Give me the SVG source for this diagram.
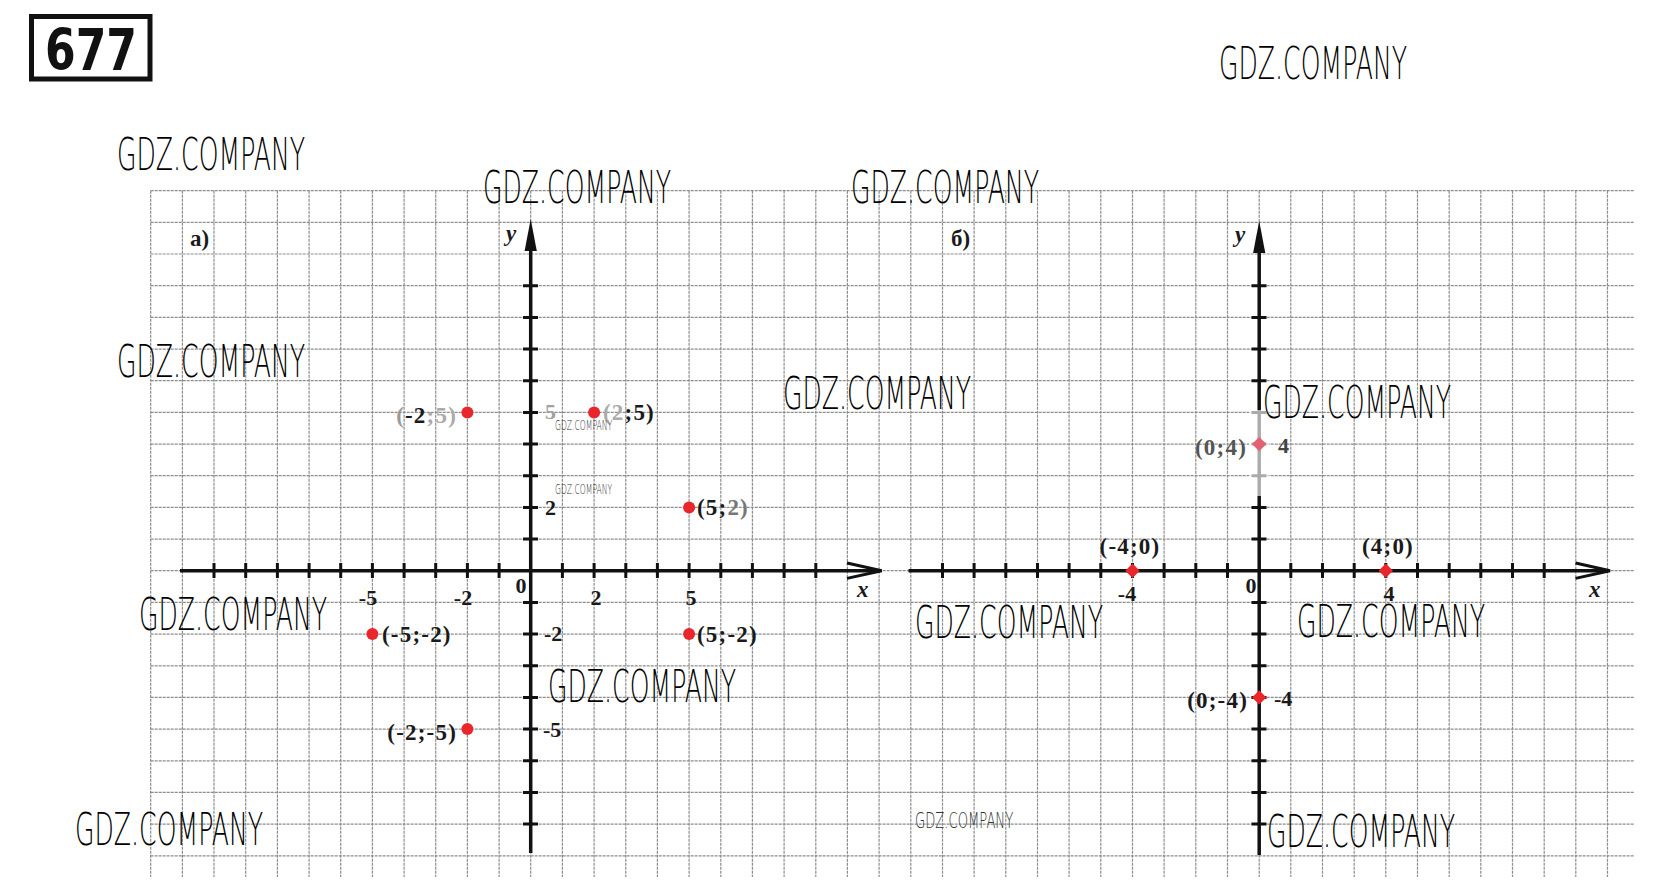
<svg xmlns="http://www.w3.org/2000/svg" width="1672" height="895" viewBox="0 0 1672 895">
<style>
.grid{stroke:#8c8c8c;stroke-width:1.2;stroke-dasharray:3 1;fill:none}
.axis{stroke:#111;stroke-width:3.5;fill:none}
.tick{stroke:#111;stroke-width:3;fill:none}
.chev{stroke:#111;stroke-width:3;fill:none;stroke-linejoin:miter}
.lbl{font-family:"Liberation Serif","Times New Roman",serif;font-weight:bold;font-size:23px;fill:#1a1a1a;letter-spacing:1.2px}
.num{font-family:"Liberation Serif","Times New Roman",serif;font-weight:bold;font-size:22px;fill:#1a1a1a}
.var{font-family:"Liberation Serif","Times New Roman",serif;font-weight:bold;font-style:italic;font-size:23px;fill:#1a1a1a}
.wm{font-family:"DejaVu Sans","Liberation Sans",sans-serif;font-weight:200;font-size:45px;fill:#000}
.wms{font-family:"DejaVu Sans","Liberation Sans",sans-serif;font-weight:200;font-size:14px;fill:#333}
.pt{fill:#e8262b}
.faint{fill:#a0a0a0}
</style>
<rect width="1672" height="895" fill="#fff"/>

<g id="title">
<rect x="31.5" y="16.5" width="118.5" height="62.5" fill="#fff" stroke="#111" stroke-width="5"/>
<text x="45" y="70" textLength="92" lengthAdjust="spacingAndGlyphs" style="font-family:'DejaVu Sans','Liberation Sans',sans-serif;font-weight:bold;font-size:57px;fill:#111">677</text>
</g>

<g id="grid" class="grid">
<path d="M150.7 190.7V877M182.4 190.7V877M214 190.7V877M245.7 190.7V877M277.4 190.7V877M309.1 190.7V877M340.7 190.7V877M372.4 190.7V877M404.1 190.7V877M435.7 190.7V877M467.4 190.7V877M499.1 190.7V877M530.7 190.7V877M562.4 190.7V877M594.1 190.7V877M625.8 190.7V877M657.4 190.7V877M689.1 190.7V877M720.8 190.7V877M752.4 190.7V877M784.1 190.7V877M815.8 190.7V877M847.4 190.7V877M879.1 190.7V877M910.8 190.7V877M942.5 190.7V877M974.1 190.7V877M1005.8 190.7V877M1037.5 190.7V877M1069.1 190.7V877M1100.8 190.7V877M1132.5 190.7V877M1164.1 190.7V877M1195.8 190.7V877M1227.5 190.7V877M1259.2 190.7V877M1290.8 190.7V877M1322.5 190.7V877M1354.2 190.7V877M1385.8 190.7V877M1417.5 190.7V877M1449.2 190.7V877M1480.8 190.7V877M1512.5 190.7V877M1544.2 190.7V877M1575.8 190.7V877M1607.5 190.7V877"/>
<path d="M150.7 190.7H1634M150.7 222.4H1634M150.7 254H1634M150.7 285.7H1634M150.7 317.4H1634M150.7 349.1H1634M150.7 380.7H1634M150.7 412.4H1634M150.7 444.1H1634M150.7 475.7H1634M150.7 507.4H1634M150.7 539.1H1634M150.7 570.7H1634M150.7 602.4H1634M150.7 634.1H1634M150.7 665.8H1634M150.7 697.4H1634M150.7 729.1H1634M150.7 760.8H1634M150.7 792.4H1634M150.7 824.1H1634M150.7 855.8H1634"/>
</g>

<g id="connectors">
<path class="axis" d="M180 570.7H880"/>
<path class="chev" d="M847 563L881.7 570.7L847 578.4"/>
<path class="axis" d="M530.7 853V240"/>
<polygon points="530.7,219 524.6,251 536.8,251" fill="#111"/>
<path class="tick" d="M214 563v15M245.7 563v15M277.4 563v15M309.1 563v15M340.7 563v15M372.4 563v15M404.1 563v15M435.7 563v15M467.4 563v15M499.1 563v15M562.4 563v15M594.1 563v15M625.8 563v15M657.4 563v15M689.1 563v15M720.8 563v15M752.4 563v15M784.1 563v15M815.8 563v15"/>
<path class="tick" d="M523 285.7h15M523 317.4h15M523 349.1h15M523 380.7h15M523 412.4h15M523 444.1h15M523 475.7h15M523 507.4h15M523 539.1h15M523 602.4h15M523 634.1h15M523 665.8h15M523 697.4h15M523 729.1h15M523 760.8h15M523 792.4h15M523 824.1h15"/>
<path class="axis" d="M908.5 570.7H1608"/>
<path class="chev" d="M1575.5 563L1610 570.7L1575.5 578.4"/>
<path class="axis" d="M1259.2 855V242"/>
<polygon points="1259.2,221 1253.1,253 1265.3,253" fill="#111"/>
<path class="tick" d="M942.5 563v15M974.1 563v15M1005.8 563v15M1037.5 563v15M1069.1 563v15M1100.8 563v15M1132.5 563v15M1164.1 563v15M1195.8 563v15M1227.5 563v15M1290.8 563v15M1322.5 563v15M1354.2 563v15M1385.8 563v15M1417.5 563v15M1449.2 563v15M1480.8 563v15M1512.5 563v15M1544.2 563v15"/>
<path class="tick" d="M1251.5 285.7h15M1251.5 317.4h15M1251.5 349.1h15M1251.5 380.7h15M1251.5 412.4h15M1251.5 444.1h15M1251.5 475.7h15M1251.5 507.4h15M1251.5 539.1h15M1251.5 602.4h15M1251.5 634.1h15M1251.5 665.8h15M1251.5 697.4h15M1251.5 729.1h15M1251.5 760.8h15M1251.5 792.4h15M1251.5 824.1h15"/>
<rect x="1249" y="410" width="20" height="86" fill="#fff" opacity="0.65"/>
</g>

<g id="axis-labels">
<text class="num" x="190" y="246" style="font-size:23px">а)</text>
<text class="num" x="951" y="246" style="font-size:23px">б)</text>
<text class="var" x="506" y="241">y</text>
<text class="var" x="1235" y="242">y</text>
<text class="var" x="857" y="597">x</text>
<text class="var" x="1589" y="597">x</text>
<text class="num" x="521" y="593" text-anchor="middle">0</text>
<text class="num" x="368" y="605" text-anchor="middle">-5</text>
<text class="num" x="463" y="605" text-anchor="middle">-2</text>
<text class="num" x="596" y="605" text-anchor="middle">2</text>
<text class="num" x="691" y="605" text-anchor="middle">5</text>
<text class="num faint" x="545" y="419">5</text>
<text class="num" x="545" y="515">2</text>
<text class="num" x="544" y="641">-2</text>
<text class="num" x="543" y="737">-5</text>
<text class="num" x="1251" y="593" text-anchor="middle">0</text>
<text class="num" x="1127" y="601" text-anchor="middle">-4</text>
<text class="num" x="1389" y="601" text-anchor="middle">4</text>
<text class="num" x="1278" y="453" style="fill:#444">4</text>
<text class="num" x="1274" y="706">-4</text>
</g>

<g id="point-a1">
<circle class="pt" cx="467.4" cy="412.4" r="6"/>
<text class="lbl" x="457" y="423" text-anchor="end"><tspan fill="#999">(</tspan>-2<tspan fill="#aaa">;5)</tspan></text>
</g>
<g id="point-a2">
<circle class="pt" cx="594.1" cy="412.4" r="6"/>
<text class="lbl" x="603" y="420"><tspan fill="#aaa">(2</tspan>;5)</text>
</g>
<g id="point-a3">
<circle class="pt" cx="689.1" cy="507.4" r="6"/>
<text class="lbl" x="697" y="515">(5;<tspan fill="#777">2)</tspan></text>
</g>
<g id="point-a4">
<circle class="pt" cx="689.1" cy="634.1" r="6"/>
<text class="lbl" x="697" y="642">(5;-2)</text>
</g>
<g id="point-a5">
<circle class="pt" cx="372.4" cy="634.1" r="6"/>
<text class="lbl" x="382" y="642">(-5;-2)</text>
</g>
<g id="point-a6">
<circle class="pt" cx="467.4" cy="729.1" r="6"/>
<text class="lbl" x="457" y="740" text-anchor="end">(-2;-5)</text>
</g>

<g id="point-b1">
<polygon class="pt" points="1132.5,563.5 1139.7,570.7 1132.5,577.9 1125.3,570.7"/>
<text class="lbl" x="1130" y="554" text-anchor="middle">(-4;0)</text>
</g>
<g id="point-b2">
<polygon class="pt" points="1385.8,563.5 1393,570.7 1385.8,577.9 1378.6,570.7"/>
<text class="lbl" x="1388" y="554" text-anchor="middle">(4;0)</text>
</g>
<g id="point-b3">
<polygon points="1259.2,436.9 1266.4,444.1 1259.2,451.3 1252,444.1" fill="#e26070"/>
<text class="lbl" x="1247" y="455" text-anchor="end" style="fill:#555">(0;4)</text>
</g>
<g id="point-b4">
<polygon class="pt" points="1259.2,690.2 1266.4,697.4 1259.2,704.6 1252,697.4"/>
<text class="lbl" x="1248" y="708" text-anchor="end">(0;-4)</text>
</g>

<g id="watermarks">
<text class="wm" transform="translate(1219 79) scale(0.555 1)" textLength="339" lengthAdjust="spacingAndGlyphs">GDZ.COMPANY</text>
<text class="wm" transform="translate(117 170) scale(0.555 1)" textLength="339" lengthAdjust="spacingAndGlyphs">GDZ.COMPANY</text>
<text class="wm" transform="translate(483 203) scale(0.555 1)" textLength="339" lengthAdjust="spacingAndGlyphs">GDZ.COMPANY</text>
<text class="wm" transform="translate(851 203) scale(0.555 1)" textLength="339" lengthAdjust="spacingAndGlyphs">GDZ.COMPANY</text>
<text class="wm" transform="translate(117 377) scale(0.555 1)" textLength="339" lengthAdjust="spacingAndGlyphs">GDZ.COMPANY</text>
<text class="wm" transform="translate(783 409) scale(0.555 1)" textLength="339" lengthAdjust="spacingAndGlyphs">GDZ.COMPANY</text>
<text class="wm" transform="translate(1263 418) scale(0.555 1)" textLength="339" lengthAdjust="spacingAndGlyphs">GDZ.COMPANY</text>
<text class="wm" transform="translate(139 630) scale(0.555 1)" textLength="339" lengthAdjust="spacingAndGlyphs">GDZ.COMPANY</text>
<text class="wm" transform="translate(915 638) scale(0.555 1)" textLength="339" lengthAdjust="spacingAndGlyphs">GDZ.COMPANY</text>
<text class="wm" transform="translate(1297 637) scale(0.555 1)" textLength="339" lengthAdjust="spacingAndGlyphs">GDZ.COMPANY</text>
<text class="wm" transform="translate(548 702) scale(0.555 1)" textLength="339" lengthAdjust="spacingAndGlyphs">GDZ.COMPANY</text>
<text class="wm" transform="translate(75 845) scale(0.555 1)" textLength="339" lengthAdjust="spacingAndGlyphs">GDZ.COMPANY</text>
<text class="wm" transform="translate(1267 847) scale(0.555 1)" textLength="339" lengthAdjust="spacingAndGlyphs">GDZ.COMPANY</text>
<text class="wms" transform="translate(555 430) scale(0.555 1)" textLength="103" lengthAdjust="spacingAndGlyphs">GDZ.COMPANY</text>
<text class="wms" transform="translate(555 494) scale(0.555 1)" textLength="103" lengthAdjust="spacingAndGlyphs">GDZ.COMPANY</text>
<text class="wms" transform="translate(915 828) scale(0.555 1)" textLength="177" lengthAdjust="spacingAndGlyphs" style="font-size:21px">GDZ.COMPANY</text>
</g>
</svg>
